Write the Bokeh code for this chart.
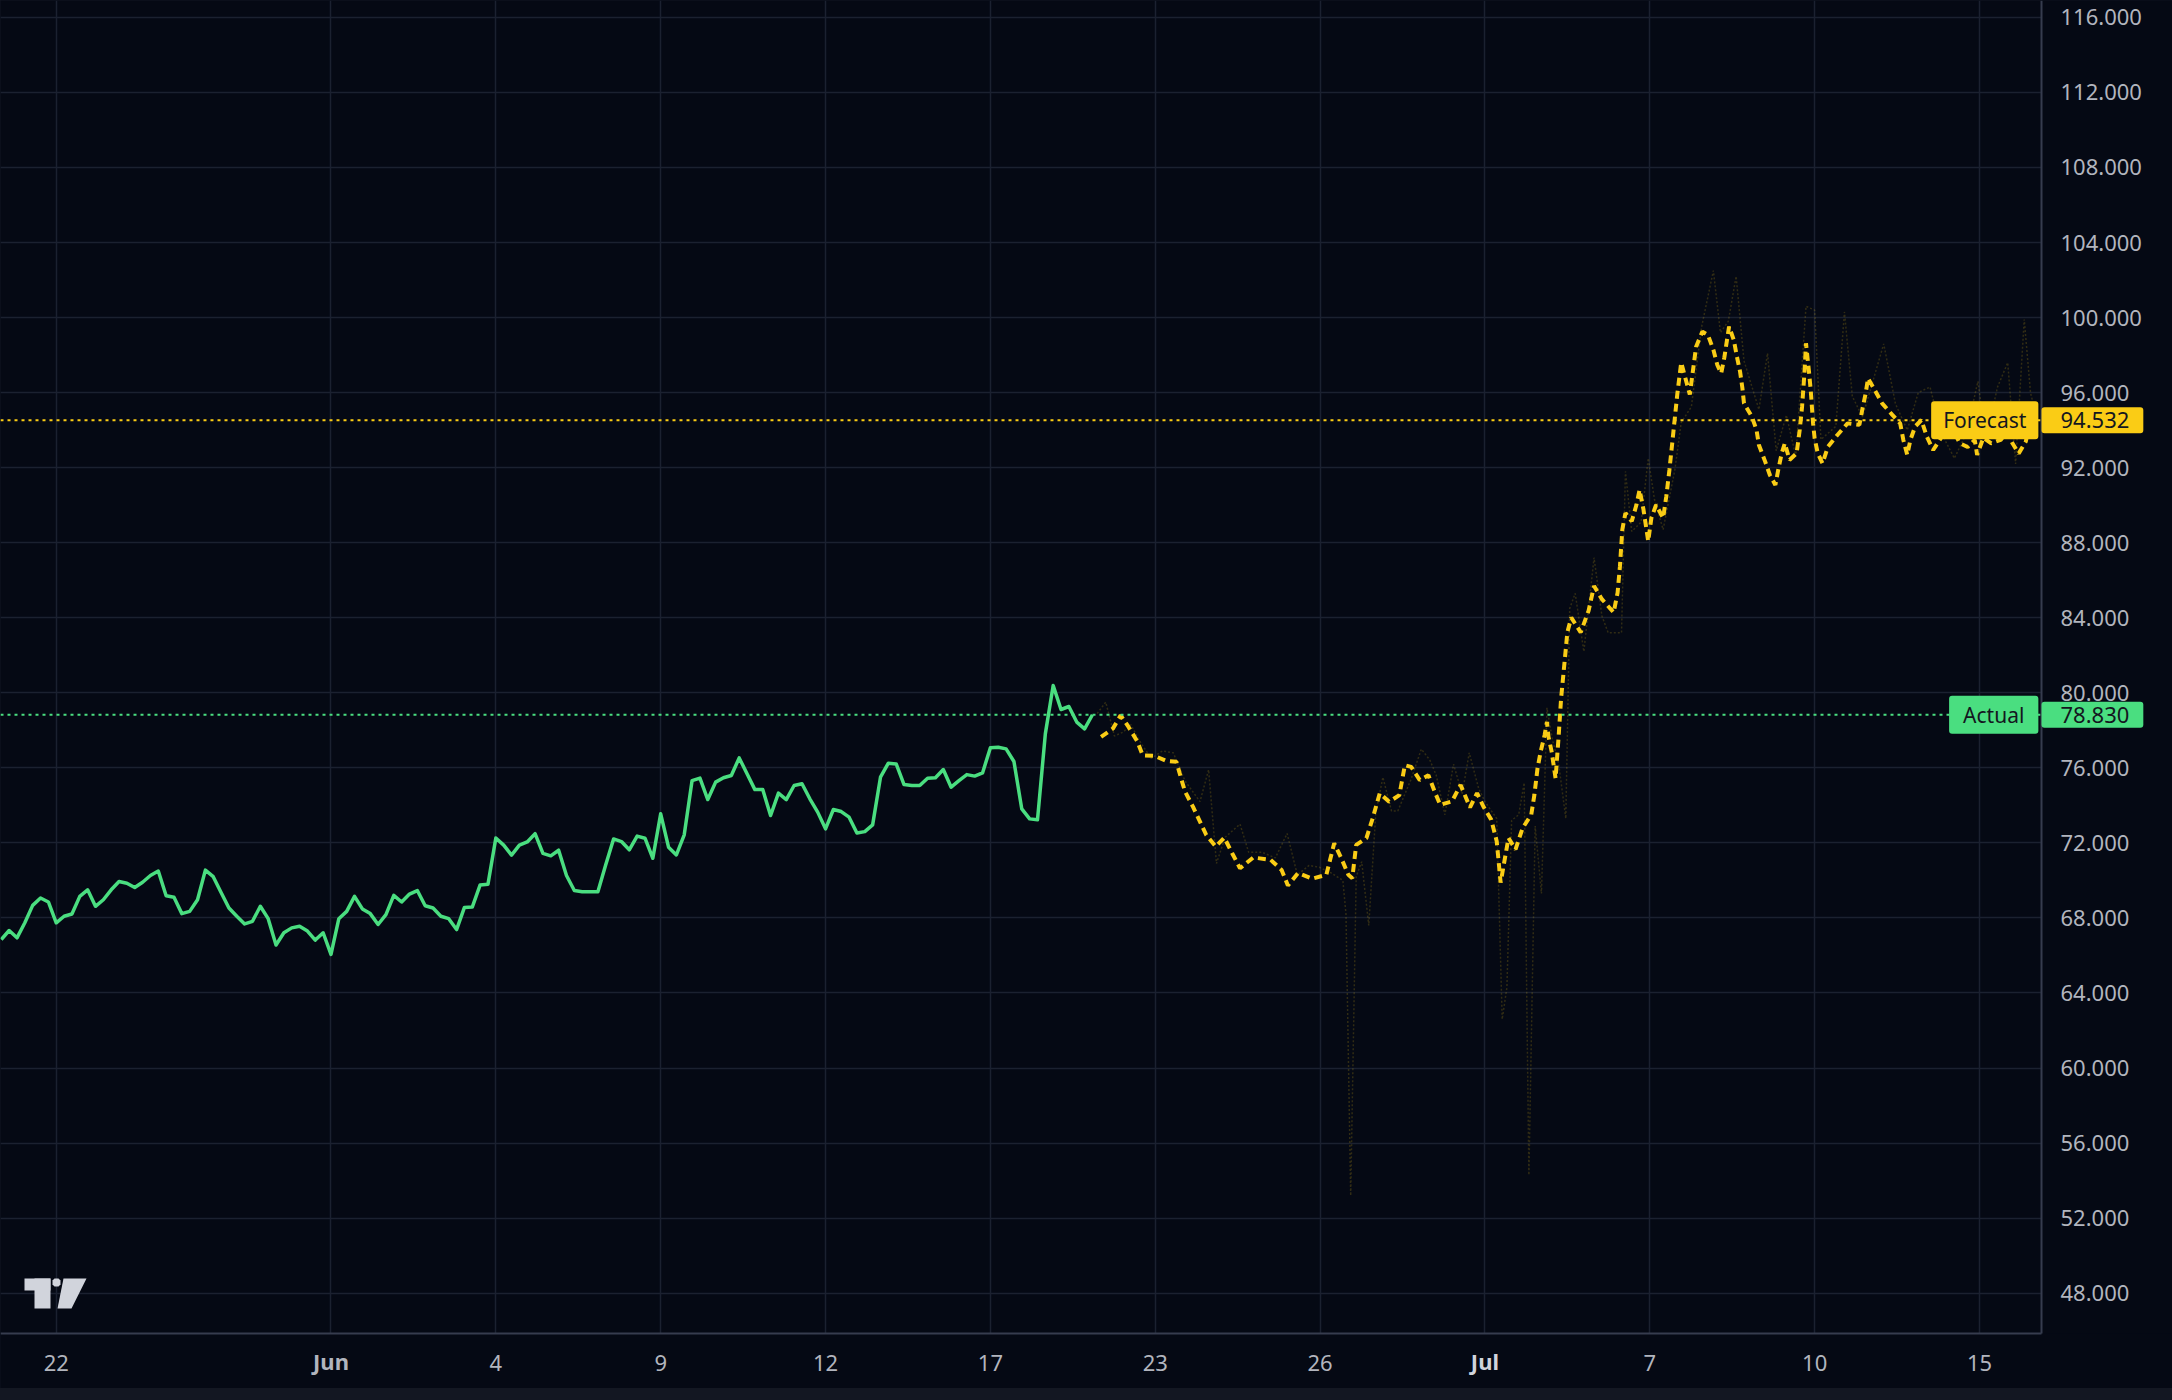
from bokeh.plotting import figure
from bokeh.models import FixedTicker, NumeralTickFormatter, Label, PolyAnnotation, BoxAnnotation
from bokeh.embed import file_html
from bokeh.resources import INLINE

# ---------------- data ----------------
# Actual series: one value per bar, bar index 0..139
actual = [
    66.85, 67.33, 66.94, 67.74, 68.67, 69.06, 68.85, 67.74, 68.09, 68.21,
    69.15, 69.50, 68.62, 68.97, 69.50, 69.94, 69.85, 69.62, 69.90, 70.26,
    70.50, 69.18, 69.10, 68.23, 68.35, 68.97, 70.55, 70.20, 69.36, 68.53,
    68.09, 67.68, 67.82, 68.62, 67.96, 66.56, 67.21, 67.47, 67.56, 67.30,
    66.82, 67.21, 66.06, 67.96, 68.35, 69.15, 68.48, 68.23, 67.65, 68.18,
    69.20, 68.85, 69.27, 69.46, 68.65, 68.53, 68.09, 67.96, 67.38, 68.56,
    68.58, 69.76, 69.80, 72.26, 71.88, 71.35, 71.88, 72.05, 72.49, 71.44,
    71.31, 71.61, 70.26, 69.46, 69.40, 69.40, 69.40, 70.83, 72.21, 72.07,
    71.63, 72.36, 72.25, 71.18, 73.55, 71.77, 71.36, 72.43, 75.32, 75.45,
    74.31, 75.24, 75.47, 75.59, 76.53, 75.68, 74.84, 74.84, 73.46, 74.65,
    74.31, 75.06, 75.15, 74.35, 73.64, 72.75, 73.78, 73.67, 73.37, 72.53,
    72.60, 72.96, 75.50, 76.25, 76.21, 75.11, 75.06, 75.06, 75.45, 75.47,
    75.91, 74.97, 75.32, 75.64, 75.56, 75.73, 77.07, 77.10, 77.01, 76.34,
    73.81, 73.28, 73.23, 77.81, 80.39, 79.11, 79.27, 78.44, 78.08, 78.83,
]
actual_x = list(range(len(actual)))

# Forecast series (dashed yellow): bar position, value
forecast_x = [
    140.1, 141.6, 142.6, 143.6, 144.7, 145.4, 146.9, 148.4, 149.7, 150.3,
    150.8, 151.8, 152.7, 153.5, 154.7, 155.8, 156.8, 157.8, 159.5, 161.7,
    163.1, 163.9, 165.2, 167.0, 168.8, 169.8, 170.7, 171.6, 172.1, 172.6,
    173.9, 174.7, 175.6, 176.8, 178.1, 178.8, 179.6, 180.7, 181.8, 182.6,
    183.3, 184.8, 185.9, 187.1, 188.0, 188.8, 189.8, 190.5, 191.0, 192.0,
    192.9, 193.8, 194.9, 195.3, 195.7, 196.1, 196.6, 196.9, 197.1, 197.5,
    198.0, 198.4, 198.7, 199.1, 199.5, 200.0, 201.2, 202.2, 202.9, 203.9,
    205.4, 205.9, 206.2, 206.5, 206.9, 207.7, 208.3, 208.7, 209.2, 209.8,
    210.2, 210.8, 211.7, 212.1, 212.5, 212.9, 213.5, 214.0, 215.1, 215.9,
    216.7, 217.4, 218.1, 218.6, 219.1, 219.5, 220.1, 220.7, 221.1, 221.5,
    221.8, 222.0, 223.0, 223.6, 223.9, 224.7, 225.3, 226.0, 226.4, 226.8,
    227.2, 227.8, 228.7, 229.1, 229.4, 229.7, 229.9, 230.3, 230.5, 230.8,
    231.0, 231.4, 232.0, 232.7, 233.9, 235.2, 236.7, 237.1, 237.5, 237.8,
    238.6, 239.6, 240.9, 241.9, 242.3, 242.8, 243.2, 243.8, 244.6, 245.3,
    246.1, 247.2, 248.4, 249.5, 250.5, 251.4, 251.7, 252.5, 253.5, 254.7,
    255.5, 256.2, 257.0, 257.9, 258.3, 259.0,
]
forecast = [
    77.65, 78.09, 78.80, 78.18, 77.42, 76.67, 76.64, 76.37, 76.32, 75.43,
    74.73, 73.93, 73.13, 72.42, 71.81, 72.28, 71.45, 70.65, 71.22, 71.10,
    70.56, 69.73, 70.39, 70.09, 70.30, 71.98, 71.19, 70.30, 70.12, 71.89,
    72.25, 73.31, 74.64, 74.19, 74.55, 76.14, 76.05, 75.35, 75.61, 74.73,
    74.03, 74.21, 75.09, 73.89, 74.65, 73.94, 73.24, 72.09, 69.88, 72.26,
    71.65, 72.79, 73.50, 74.56, 75.98, 76.86, 77.74, 78.45, 77.65, 76.86,
    75.44, 77.74, 79.69, 81.45, 83.22, 84.01, 83.22, 84.37, 85.69, 84.99,
    84.28, 85.34, 86.75, 88.70, 89.58, 89.14, 90.02, 90.82, 89.76, 88.08,
    89.31, 90.02, 89.31, 90.46, 91.88, 93.47, 95.90, 97.60, 95.90, 98.45,
    99.25, 99.08, 98.28, 97.48, 97.03, 97.88, 99.52, 98.81, 97.92, 97.12,
    96.23, 95.43, 94.72, 94.01, 93.21, 92.32, 91.61, 91.08, 91.96, 92.76,
    93.30, 92.41, 92.76, 94.01, 95.25, 97.03, 98.63, 97.03, 96.14, 94.36,
    93.56, 92.76, 92.23, 93.12, 93.74, 94.36, 94.28, 95.16, 95.96, 96.76,
    96.18, 95.43, 94.81, 94.36, 93.48, 92.68, 93.48, 94.19, 94.54, 93.65,
    92.94, 93.65, 94.19, 93.30, 93.10, 93.48, 92.68, 93.60, 93.30, 93.48,
    93.90, 93.30, 92.76, 93.39, 94.19, 94.50,
]

# Faint raw forecast trace: bar position, value
raw_x = [
    139.6, 140.7, 141.8, 142.9, 143.9, 145.2, 146.5, 147.9, 149.3, 150.8,
    152.7, 153.8, 154.8, 155.9, 157.8, 158.9, 160.6, 162.3, 163.8, 165.1,
    166.6, 167.9, 169.4, 170.9, 171.3, 171.9, 172.6, 173.3, 174.2, 175.1,
    176.0, 177.1, 177.9, 178.8, 179.6, 180.9, 182.0, 182.8, 183.9, 185.0,
    186.1, 187.0, 188.2, 189.0, 190.5, 191.2, 191.8, 192.4, 193.3, 194.0,
    194.6, 195.4, 196.2, 196.9, 197.6, 198.4, 199.3, 199.8, 200.5, 201.6,
    202.9, 203.9, 204.7, 206.4, 206.9, 207.7, 208.9, 209.8, 210.6, 211.7,
    213.2, 214.0, 215.3, 216.6, 218.1, 219.0, 220.0, 221.0, 222.0, 223.9,
    225.0, 226.1, 227.4, 228.6, 229.9, 231.0, 231.8, 233.7, 234.8, 235.8,
    237.1, 239.8, 241.3, 242.8, 244.2, 245.7, 247.2, 248.8, 250.3, 251.8,
    252.8, 254.3, 255.6, 256.6, 257.7, 258.5, 259.2,
]
raw = [
    78.90, 79.50, 77.70, 77.90, 78.30, 77.30, 76.50, 76.90, 76.80, 75.30,
    74.20, 75.90, 70.90, 72.30, 73.00, 71.50, 71.50, 71.20, 72.50, 70.30,
    70.80, 70.70, 70.40, 70.00, 68.20, 53.20, 70.20, 71.00, 67.60, 73.60,
    75.50, 73.70, 73.70, 74.60, 75.40, 77.00, 76.40, 75.60, 73.50, 76.20,
    74.60, 76.80, 74.90, 74.20, 73.30, 62.60, 64.30, 73.20, 73.50, 75.20,
    54.30, 72.90, 69.30, 79.20, 77.50, 76.20, 73.30, 84.50, 85.30, 82.20,
    87.20, 84.10, 83.20, 83.20, 91.80, 88.60, 89.10, 92.50, 90.30, 88.70,
    91.90, 94.40, 95.25, 99.50, 102.50, 99.20, 99.80, 102.20, 97.70, 95.10,
    98.10, 92.90, 94.80, 92.60, 100.60, 100.40, 93.50, 94.20, 100.30, 95.80,
    94.70, 98.60, 95.40, 94.00, 96.00, 96.30, 93.80, 92.50, 93.80, 96.60,
    93.50, 96.30, 97.60, 92.20, 99.90, 96.00, 94.80,
]

tick_bars = [7, 42, 63, 84, 105, 126, 147, 168, 189, 210, 231, 252]
tick_labels = ["22", "Jun", "4", "9", "12", "17", "23", "26", "Jul", "7", "10", "15"]
month_labels = ["Jun", "Jul"]
y_ticks = list(range(48, 117, 4))

actual_last = 78.830
forecast_last = 94.532

# ---------------- styling ----------------
BG = "#050914"
STRIP = "#131722"
GRID = "#1b2130"
AXIS = "#363c4e"
TXT = "#b2b5be"
BRIGHT = "#d1d4dc"
GREEN = "#4ade80"
YELLOW = "#facc15"
DARK_TXT = "#14171f"
FONT = "Noto Sans"
FS = "22px"

# chart region in data units; the frame also covers the axis strips
X0, X1 = -0.1, 259.9          # plotted bars (page x 0 .. 2041)
Y0, Y1 = 45.85, 116.90        # plotted values (page y 1333 .. 0)
PX_PER_BAR = 2041 / (X1 - X0)
PX_PER_UNIT = 1333 / (Y1 - Y0)
XR = X1 + 131 / PX_PER_BAR     # right edge of page
YB = Y0 - 55 / PX_PER_UNIT     # bottom of figure

p = figure(
    width=2172, height=1388,
    x_range=(X0, XR), y_range=(YB, Y1),
    y_axis_location="right",
    output_backend="svg", toolbar_location=None,
    min_border_left=0, min_border_top=0,
    min_border_right=0, min_border_bottom=0,
    background_fill_color=BG, border_fill_color=BG,
    outline_line_color=None,
)

# grid
p.xgrid.ticker = FixedTicker(ticks=tick_bars)
p.ygrid.ticker = FixedTicker(ticks=y_ticks)
for g in (p.xgrid[0], p.ygrid[0]):
    g.grid_line_color = GRID
    g.grid_line_width = 1.5

# mask the grid inside the axis strips
p.add_layout(BoxAnnotation(left=X1, fill_color=BG, fill_alpha=1, line_color=None, level="underlay"))
p.add_layout(BoxAnnotation(top=Y0, fill_color=BG, fill_alpha=1, line_color=None, level="underlay"))

# x axis
xa = p.xaxis[0]
xa.fixed_location = Y0
xa.bounds = (X0, X1)
xa.ticker = FixedTicker(ticks=tick_bars)
xa.major_label_overrides = {b: ("" if lab in month_labels else lab) for b, lab in zip(tick_bars, tick_labels)}
xa.major_tick_line_color = None
xa.minor_tick_line_color = None
xa.axis_line_color = AXIS
xa.axis_line_width = 2
xa.major_label_text_color = TXT
xa.major_label_text_font = FONT
xa.major_label_text_font_size = FS
xa.major_label_standoff = 15

# y axis
ya = p.yaxis[0]
ya.fixed_location = X1
ya.bounds = (Y0, Y1)
ya.ticker = FixedTicker(ticks=y_ticks)
ya.formatter = NumeralTickFormatter(format="0.000")
ya.major_tick_line_color = None
ya.minor_tick_line_color = None
ya.axis_line_color = AXIS
ya.axis_line_width = 2
ya.major_label_text_color = TXT
ya.major_label_text_font = FONT
ya.major_label_text_font_size = FS
ya.major_label_standoff = 13

# month labels (bold) under the axis line
ybelow = Y0 - 27 / PX_PER_UNIT
for b, lab in zip(tick_bars, tick_labels):
    if lab in month_labels:
        p.add_layout(Label(x=b, y=ybelow, text=lab, text_align="center",
                           text_baseline="middle", text_font=FONT,
                           text_font_size=FS, text_font_style="bold",
                           text_color=BRIGHT if lab == "Jul" else TXT))

# series
p.line(raw_x, raw, line_color=YELLOW, line_alpha=0.18, line_width=1.5, line_dash="2 2")
p.line(actual_x, actual, line_color=GREEN, line_width=3.5, line_join="round")
p.line(forecast_x, forecast, line_color=YELLOW, line_width=4, line_dash="8 5")

# price lines (across the chart area)
p.segment(x0=[X0, X0], x1=[X1, X1], y0=[forecast_last, actual_last], y1=[forecast_last, actual_last],
          line_color=[YELLOW, GREEN], line_width=2, line_dash="3 4")

# price label boxes
def price_boxes(name, val, color, pad):
    p.add_layout(Label(x=X1 - 0.4, y=val, text=name, text_align="right",
                       text_baseline="middle", text_font=FONT, text_font_size="21px",
                       text_color=DARK_TXT, background_fill_color=color,
                       border_radius=3, padding=(pad, pad, 5, 5)))
    p.add_layout(Label(x=X1, y=val, text=f"{val:.3f}", text_align="left",
                       text_baseline="middle", text_font=FONT, text_font_size=FS,
                       text_color=DARK_TXT, background_fill_color=color,
                       border_radius=3, padding=(19, 14, 5, 5)))

price_boxes("Forecast", forecast_last, YELLOW, 12)
price_boxes("Actual", actual_last, GREEN, 14)

# small logo mark (screen units, from the frame's bottom-left)
LOGO = "#d1d4dc"
LB = 55
logo_parts = [
    ([24, 50, 50, 24], [55, 55, 43, 43]),
    ([34, 50, 50, 34], [55, 55, 25, 25]),
    ([63, 86, 71, 57], [55, 55, 25, 25]),
    ([54, 58, 60, 60, 58, 54, 52, 52], [55, 55, 53, 49, 47, 47, 49, 53]),
]
for xs, ys in logo_parts:
    p.add_layout(PolyAnnotation(xs=xs, ys=[v + LB for v in ys], xs_units="screen", ys_units="screen",
                                fill_color=LOGO, fill_alpha=1, line_color=None))

html = file_html(p, INLINE, title="Forecast vs Actual")
html = html.replace(
    "</head>",
    "<style>html,body{margin:0;padding:0;background:" + STRIP + ";}</style></head>", 1)
open("out.html", "w").write(html)
